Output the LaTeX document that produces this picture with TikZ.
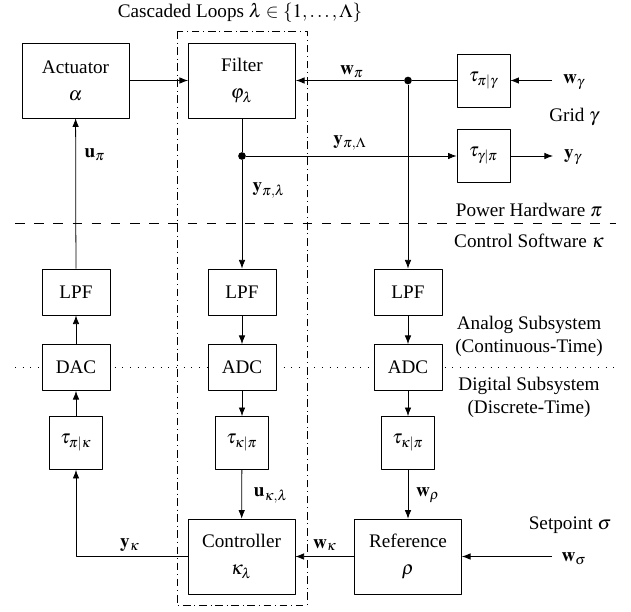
\documentclass[tikz,border=0pt]{standalone}
\usepackage{mathptmx}
\usepackage[no-math]{fontspec}
\setmainfont{Liberation Serif}
\usetikzlibrary{arrows.meta}

\tikzset{
  block/.style={draw, fill=white, minimum width=55.8pt, minimum height=39pt, align=center, inner sep=1pt},
  filterbox/.style={draw, fill=white, minimum width=35.5pt, minimum height=24pt, inner sep=1pt},
  delay/.style={draw, fill=white, minimum width=27.6pt, minimum height=27.6pt, inner sep=0pt},
  junc/.style={circle, fill, inner sep=0pt, minimum size=4pt},
  loopframe/.style={dash pattern=on 4pt off 2pt on 0.4pt off 2pt},
}

\begin{document}
\begin{tikzpicture}[x=0.5214pt, y=-0.5214pt, line join=round, >={Latex[length=4.5pt,width=3.4pt]}]
	\useasboundingbox (0,0) rectangle (631,612);
	% domain borders and cascaded loop frame
	\draw[dash pattern=on 5pt off 5pt] (15,223.5) -- (616,223.5);
	\draw[dash pattern=on 0.5pt off 3.5pt] (15,367.5) -- (616,367.5);
	\draw[loopframe] (177,31) rectangle (307,605);
	\node (title) at (240,13) {Cascaded Loops $\lambda \in \{1, \ldots, \Lambda\}$};

	% power hardware
	\node[block] (act) at (75.5,80.5) {Actuator\\[2pt]$\alpha$};
	\node[block] (filt) at (242,80.5) {Filter\\[2pt]$\varphi_\lambda$};
	\node[delay] (tpg) at (483.5,80.5) {$\tau_{\pi|\gamma}$};
	\node[delay] (tgp) at (483.5,156) {$\tau_{\gamma|\pi}$};
	\node[junc] (j1) at (408,80.5) {};
	\node[junc] (j2) at (242,156) {};
	\coordinate (win) at (552,80.5);
	\coordinate (yout) at (553,156);

	% control software
	\foreach \n/\x/\c in {1/76/DAC,2/242/ADC,3/408/ADC}
	{
		\node[filterbox] (lpf\n) at (\x,292) {LPF};
		\node[filterbox] (cnv\n) at (\x,367.5) {\c};
	}
	\node[delay] (tpk) at (76,443) {$\tau_{\pi|\kappa}$};
	\node[delay] (tkp2) at (242,443) {$\tau_{\kappa|\pi}$};
	\node[delay] (tkp3) at (408,443) {$\tau_{\kappa|\pi}$};
	\node[block] (ctrl) at (241.5,556.5) {Controller\\[2pt]$\kappa_\lambda$};
	\node[block] (ref) at (408,556.5) {Reference\\[2pt]$\rho$};
	\coordinate (wsig) at (552,556.5);

	% connectors
	\draw[->] (act) -- (filt);
	\draw[->] (tpg) -- (j1) -- (filt);
	\draw[->] (win) -- (tpg);
	\draw (filt) -- (j2);
	\draw[->] (j2) -- (tgp);
	\draw[->] (tgp) -- (yout);
	\draw[->] (j2) -- (lpf2);
	\draw[->] (j1) -- (lpf3);
	\draw[->] (lpf2) -- (cnv2);
	\draw[->] (cnv2) -- (tkp2);
	\draw[->] (tkp2) -- (ctrl);
	\draw[->] (lpf3) -- (cnv3);
	\draw[->] (cnv3) -- (tkp3);
	\draw[->] (tkp3) -- (ref);
	\draw[->] (wsig) -- (ref);
	\draw[->] (ref) -- (ctrl);
	\draw[->] (ctrl.west) -| (tpk.south);
	\draw[->] (tpk) -- (cnv1);
	\draw[->] (cnv1) -- (lpf1);
	\draw[->] (lpf1) -- (act);

	% signal labels
	\node (lwpi) at (352,72) {$\mathbf{w}_\pi$};
	\node (lwg) at (574,82) {$\mathbf{w}_\gamma$};
	\node (lypL) at (350,143) {$\mathbf{y}_{\pi,\Lambda}$};
	\node (lyg) at (573,157) {$\mathbf{y}_\gamma$};
	\node (lupi) at (95,155) {$\mathbf{u}_\pi$};
	\node (lypl) at (269,190) {$\mathbf{y}_{\pi,\lambda}$};
	\node (luk) at (271,495) {$\mathbf{u}_{\kappa,\lambda}$};
	\node (lwr) at (428,495) {$\mathbf{w}_\rho$};
	\node (lyk) at (130,545) {$\mathbf{y}_\kappa$};
	\node (lwk) at (325,545) {$\mathbf{w}_\kappa$};
	\node (lws) at (574,559) {$\mathbf{w}_\sigma$};

	% domain labels
	\node (grid) at (574,117) {Grid $\gamma$};
	\node (phw) at (529,210) {Power Hardware $\pi$};
	\node (csw) at (529,241) {Control Software $\kappa$};
	\node[align=center] (ana) at (529,336) {Analog Subsystem\\(Continuous-Time)};
	\node[align=center] (dig) at (529,397) {Digital Subsystem\\(Discrete-Time)};
	\node (setp) at (570,525) {Setpoint $\sigma$};
\end{tikzpicture}
\end{document}
